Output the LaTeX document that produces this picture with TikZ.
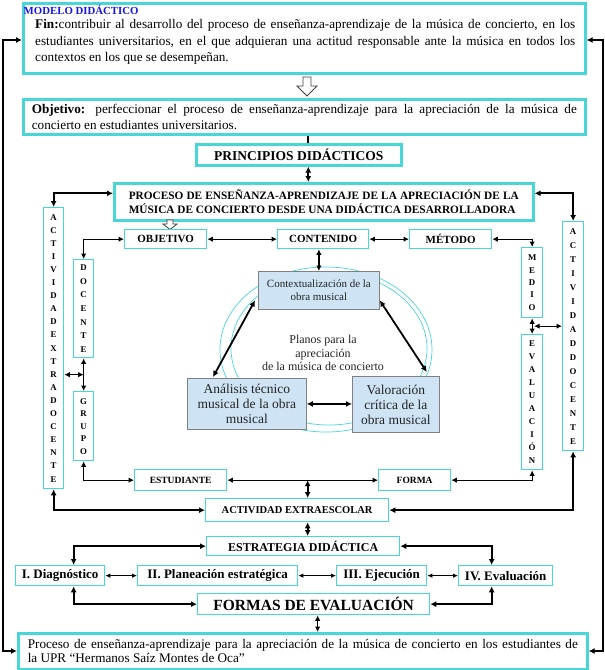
\documentclass[tikz,border=0pt]{standalone}
\usepackage{fontspec}
\setmainfont{Liberation Serif}
\usetikzlibrary{arrows.meta,calc}
\definecolor{tq}{RGB}{72,214,214}
\definecolor{pb}{RGB}{206,228,244}
\definecolor{mblue}{RGB}{20,20,235}
\definecolor{dtxt}{RGB}{35,35,35}
\begin{document}
\begin{tikzpicture}[x=1pt,y=-1pt,
  bx/.style={draw=tq, line width=1.3pt, inner sep=0pt, anchor=north west, align=center,
    font=\bfseries\fontsize{10}{12}\selectfont},
  bxT/.style={bx, line width=2.6pt},
  vbox/.style={bx, font=\bfseries\fontsize{8.8}{13}\selectfont},
  pbox/.style={draw=gray, fill=pb, line width=0.8pt, inner sep=0pt, anchor=north west, align=center, text=dtxt},
  conn/.style={line width=1.8pt, {Latex[length=6pt,width=6pt]}-{Latex[length=6pt,width=6pt]}},
  connm/.style={line width=1.2pt, {Latex[length=5.5pt,width=5.5pt]}-{Latex[length=5.5pt,width=5.5pt]}},
  conns/.style={line width=0.9pt, {Latex[length=5pt,width=4.5pt]}-{Latex[length=5pt,width=4.5pt]}},
  hollowst/.style={draw=black!75, fill=white, line width=0.8pt, line join=miter}
]
\useasboundingbox (0,0) rectangle (605,670);

% ---------- top boxes ----------
\node[bxT, minimum width=562pt, minimum height=70pt] (fin) at (22,2) {};
\node[anchor=north west, inner sep=0pt, text=mblue, font=\bfseries\fontsize{10.8}{12}\selectfont] (modelo) at (23.5,5.5) {MODELO DIDÁCTICO};
\node[anchor=north west, inner sep=0pt, text width=540pt, align=justify,
  font=\fontsize{13.2}{16.5}\selectfont] (fintxt) at (35,19.5)
  {\textbf{Fin:}contribuir al desarrollo del proceso de enseñanza-aprendizaje de la música de concierto, en los\linebreak estudiantes universitarios, en el que adquieran una actitud responsable ante la música en todos los\linebreak contextos en los que se desempeñan.};

\node[bxT, minimum width=562pt, minimum height=35pt, text width=545pt, inner xsep=8.5pt, align=justify,
  font=\fontsize{13.2}{15.5}\selectfont] (objb) at (22,98)
  {\textbf{Objetivo:} perfeccionar el proceso de enseñanza-aprendizaje para la apreciación de la música de\linebreak concierto en estudiantes universitarios.};

\draw[hollowst] (303,77) -- (311,77) -- (311,86) -- (317,86) -- (307,96) -- (297,86) -- (303,86) -- cycle;

\node[bxT, minimum width=205pt, minimum height=21pt, font=\bfseries\fontsize{13.5}{15}\selectfont] (princ) at (195,143) {PRINCIPIOS DIDÁCTICOS};

\node[bxT, minimum width=419pt, minimum height=37pt, text width=390pt, align=justify,
  font=\bfseries\fontsize{11.3}{13.7}\selectfont] (proc) at (113,182)
  {PROCESO DE ENSEÑANZA-APRENDIZAJE DE LA APRECIACIÓN DE LA\linebreak MÚSICA DE CONCIERTO DESDE UNA DIDÁCTICA DESARROLLADORA};

\draw[hollowst] (167,220) -- (173,220) -- (173,224) -- (177,224) -- (170,229.5) -- (163,224) -- (167,224) -- cycle;

% ---------- side vertical boxes ----------
\node[vbox, minimum width=20pt, minimum height=281pt, font=\bfseries\fontsize{8.8}{13.1}\selectfont] (aext) at (43,207)
  {A\\C\\T\\I\\V\\I\\D\\A\\D\\E\\X\\T\\R\\A\\D\\O\\C\\E\\N\\T\\E};
\node[vbox, minimum width=21pt, minimum height=229pt, font=\bfseries\fontsize{8.8}{14}\selectfont] (adoc) at (562,221)
  {A\\C\\T\\I\\V\\I\\D\\A\\D\\D\\O\\C\\E\\N\\T\\E};

% ---------- second row ----------
\node[bx, minimum width=82pt, minimum height=19pt, font=\bfseries\fontsize{11}{12}\selectfont] (objt) at (124,229) {OBJETIVO};
\node[bx, minimum width=91pt, minimum height=19pt, font=\bfseries\fontsize{11}{12}\selectfont] (cont) at (277,229) {CONTENIDO};
\node[bx, minimum width=82pt, minimum height=19pt, font=\bfseries\fontsize{11}{12}\selectfont] (met) at (409,229) {MÉTODO};

\node[vbox, minimum width=20pt, minimum height=98pt, font=\bfseries\fontsize{8.8}{13.6}\selectfont] (doc) at (73,259) {D\\O\\C\\E\\N\\T\\E};
\node[vbox, minimum width=20pt, minimum height=69pt, font=\bfseries\fontsize{8.8}{12.5}\selectfont] (grp) at (73,391) {G\\R\\U\\P\\O};
\node[vbox, minimum width=21pt, minimum height=70pt, font=\bfseries\fontsize{8.8}{12.3}\selectfont] (med) at (521,247) {M\\E\\D\\I\\O};
\node[vbox, minimum width=21pt, minimum height=135pt, font=\bfseries\fontsize{8.8}{13}\selectfont] (evl) at (521,334) {E\\V\\A\\L\\U\\A\\C\\I\\Ó\\N};

% ---------- centre ----------
\draw[tq, line width=0.7pt] (326,349.5) ellipse [x radius=106pt, y radius=82.5pt];
\draw[tq, line width=0.7pt] (329,348.5) ellipse [x radius=98pt, y radius=76.5pt];

\node[pbox, minimum width=121pt, minimum height=38pt, font=\fontsize{11}{13}\selectfont] (ctx) at (258,271) {Contextualización de la\\obra musical};
\node[pbox, minimum width=119pt, minimum height=51pt, font=\fontsize{13.5}{15}\selectfont] (ana) at (187,378) {Análisis técnico\\musical de la obra\\musical};
\node[pbox, minimum width=87pt, minimum height=56pt, font=\fontsize{13.5}{15}\selectfont] (val) at (352,376) {Valoración\\crítica de la\\obra musical};
\node[align=center, inner sep=0pt, text=dtxt, font=\fontsize{12}{13.5}\selectfont] (planos) at (323,353) {Planos para la\\apreciación\\de la música de concierto};

% ---------- lower ----------
\node[bx, minimum width=92pt, minimum height=21pt, font=\bfseries\fontsize{9.5}{11}\selectfont] (est) at (134,469) {ESTUDIANTE};
\node[bx, minimum width=72pt, minimum height=21pt, font=\bfseries\fontsize{9.5}{11}\selectfont] (forma) at (378,469) {FORMA};
\node[bx, minimum width=183pt, minimum height=23pt, font=\bfseries\fontsize{10.5}{12}\selectfont] (aesc) at (205,498) {ACTIVIDAD EXTRAESCOLAR};
\node[bx, minimum width=193pt, minimum height=19pt, font=\bfseries\fontsize{12}{13}\selectfont] (estr) at (206,536) {ESTRATEGIA DIDÁCTICA};

\node[bx, minimum width=89pt, minimum height=20pt, font=\bfseries\fontsize{13}{14}\selectfont] (diag) at (15,565) {I. Diagnóstico};
\node[bx, minimum width=160pt, minimum height=20pt, font=\bfseries\fontsize{13}{14}\selectfont] (plane) at (137,565) {II. Planeación estratégica};
\node[bx, minimum width=90pt, minimum height=20pt, font=\bfseries\fontsize{13}{14}\selectfont] (ejec) at (336,565) {III. Ejecución};
\node[bx, minimum width=94pt, minimum height=20pt, font=\bfseries\fontsize{13}{14}\selectfont] (eva4) at (458,565) {IV. Evaluación};

\node[bx, minimum width=232pt, minimum height=21pt, font=\bfseries\fontsize{15.5}{17}\selectfont] (formas) at (197,593) {FORMAS DE EVALUACIÓN};

\node[bxT, minimum width=569pt, minimum height=36pt, text width=550pt, inner xsep=9.5pt, align=justify,
  font=\fontsize{13.2}{13.8}\selectfont] (bot) at (17,632)
  {Proceso de enseñanza-aprendizaje para la apreciación de la música de concierto en los estudiantes de\linebreak la UPR “Hermanos Saíz Montes de Oca”};

% ---------- connectors ----------
\coordinate (L1) at (3,40);
\coordinate (L2) at (3,651);
\coordinate (R1) at (603,40);
\coordinate (R2) at (603,651);
\draw[conn, line join=miter] (fin.west |- L1) -- (L1) -- (L2) -- (bot.west |- L2);
\draw[conn, line join=miter] (fin.east |- R1) -- (R1) -- (R2) -- (bot.east |- R2);

\draw[line width=1.8pt] ([xshift=9.5pt]princ.north) -- ([xshift=9.5pt]princ.north |- objb.south);
\draw[conn] ([xshift=9.5pt]princ.south) -- ([xshift=9.5pt]princ.south |- proc.north);

\draw[conn] ([yshift=8.5pt]proc.west) -| (aext.north);
\draw[conn] ([yshift=8.5pt]proc.east) -| (adoc.north);

\draw[connm] (objt.east) -- (cont.west);
\draw[connm] (cont.east) -- (met.west);
\draw[connm] (objt.west) -| (doc.north);
\draw[connm] (met.east) -| (med.north);
\draw[connm] (ctx.north) -- (ctx.north |- cont.south);

\draw[connm] (doc.south) -- (grp.north);
\coordinate (dg) at ($(doc.south)!0.5!(grp.north)$);
\draw[connm] (aext.east |- dg) -- (dg);
\draw[connm] (med.south) -- (evl.north);
\coordinate (me) at ($(med.south)!0.5!(evl.north)$);
\draw[connm] ([xshift=2pt]me) -- (adoc.west |- me);

\draw[conn] ([xshift=-3pt,yshift=-10pt]ctx.west) -- ([xshift=26pt,yshift=1pt]ana.north west);
\draw[conn] ([yshift=-10pt]ctx.east) -- ([xshift=-13pt,yshift=4pt]val.north east);
\draw[conn] (ana.east) -- (ana.east -| val.west);

\draw[connm] (grp.south) |- (est.west);
\draw[connm] (est.east) -- (forma.west);
\draw[connm] (forma.east) -| (evl.south);
\draw[conn] ([xshift=10.5pt]aesc.north) -- ([xshift=10.5pt]aesc.north |- est.east);

\draw[conn] (aext.south) |- (aesc.west);
\draw[conn] (adoc.south) |- (aesc.east);
\draw[conn] ([xshift=10.5pt]aesc.south) -- ([xshift=10.5pt]aesc.south |- estr.north);

\draw[conn] (estr.west) -| ([xshift=13.5pt]diag.north);
\draw[conn] (estr.east) -| ([xshift=-14pt]eva4.north);
\draw[conns] (diag.east) -- (plane.west);
\draw[conns] (plane.east) -- (ejec.west);
\draw[conns] (ejec.east) -- (eva4.west);
\draw[conn] ([xshift=13.5pt]diag.south) |- (formas.west);
\draw[conn] ([xshift=-14pt]eva4.south) |- (formas.east);
\draw[connm] ([xshift=4pt]formas.south) -- ([xshift=4pt]formas.south |- bot.north);
\end{tikzpicture}
\end{document}
